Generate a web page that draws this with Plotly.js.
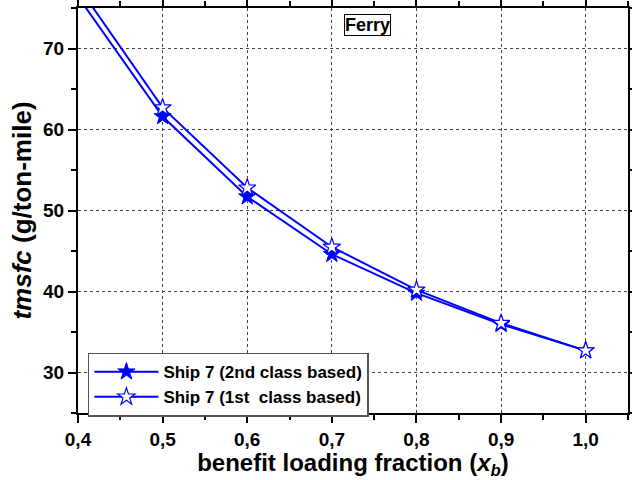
<!DOCTYPE html>
<html>
<head>
<meta charset="utf-8">
<script src="https://cdn.plot.ly/plotly-3.0.1.min.js"></script>
<style>html,body{margin:0;padding:0;background:#fff;}#chart{width:632px;height:480px;}</style>
</head>
<body>
<div id="chart"></div>
<script>
const xValues = [0.4, 0.5, 0.6, 0.7, 0.8, 0.9, 1.0];
const ship7SecondClass = [76.4, 61.6, 51.7, 44.6, 39.8, 35.95, 32.7];
const ship7FirstClass = [77.7, 62.7, 52.8, 45.5, 40.2, 36.1, 32.7];
const seriesNames = ["Ship 7 (2nd class based)", "Ship 7 (1st&nbsp; class based)"];
const xTickVals = [0.4, 0.5, 0.6, 0.7, 0.8, 0.9, 1.0];
const xTickLabels = ["0,4", "0,5", "0,6", "0,7", "0,8", "0,9", "1,0"];
const yTickVals = [30, 40, 50, 60, 70];
const yTickLabels = ["30", "40", "50", "60", "70"];

const font = "Liberation Sans";
const blue = "#0000ff";
const bold = s => "<b>" + s + "</b>";

const traces = [
  {
    x: xValues, y: ship7SecondClass, name: bold(seriesNames[0]),
    mode: "lines+markers", type: "scatter",
    line: {color: blue, width: 2},
    marker: {symbol: "star", size: 13, color: blue, line: {color: blue, width: 1}}
  },
  {
    x: xValues, y: ship7FirstClass, name: bold(seriesNames[1]),
    mode: "lines+markers", type: "scatter",
    line: {color: blue, width: 2},
    marker: {symbol: "star", size: 13, color: "#ffffff", line: {color: blue, width: 1.2}}
  }
];

const axisCommon = {
  showline: true, linecolor: "#000", linewidth: 2, mirror: "ticks",
  ticks: "outside", ticklen: 8, tickwidth: 2, tickcolor: "#000",
  showgrid: true, gridcolor: "#444", gridwidth: 1, griddash: "dot",
  zeroline: false,
  tickfont: {family: font, size: 19, color: "#000"}
};

const layout = {
  width: 632, height: 480,
  margin: {l: 78, r: 4, t: 8, b: 67},
  paper_bgcolor: "#fff", plot_bgcolor: "#fff",
  showlegend: true,
  xaxis: Object.assign({}, axisCommon, {
    range: [0.4, 1.05], tickvals: xTickVals, ticktext: xTickLabels.map(bold),
    minor: {dtick: 0.05, tick0: 0.4, ticklen: 5, tickwidth: 2, tickcolor: "#000", ticks: "outside", showgrid: false},
    title: {text: "<b>benefit loading fraction (<i>x</i><sub><i>b</i></sub>)</b>", font: {family: font, size: 24, color: "#000"}, standoff: 4}
  }),
  yaxis: Object.assign({}, axisCommon, {
    range: [25, 75], tickvals: yTickVals, ticktext: yTickLabels.map(bold),
    minor: {dtick: 5, tick0: 25, ticklen: 5, tickwidth: 2, tickcolor: "#000", ticks: "outside", showgrid: false},
    title: {text: "<b><i>tmsfc</i> (g/ton-mile)</b>", font: {family: font, size: 26, color: "#000"}, standoff: 4}
  }),
  legend: {
    x: 0.018, y: 0.149, xanchor: "left", yanchor: "top",
    bgcolor: "#fff", bordercolor: "#555", borderwidth: 1.5,
    font: {family: font, size: 17, color: "#000"},
    itemwidth: 64, tracegroupgap: 0
  },
  annotations: [{
    xref: "paper", yref: "paper", x: 0.527, y: 0.959, yanchor: "middle",
    text: "<b>Ferry</b>", showarrow: false,
    font: {family: font, size: 18, color: "#000"},
    bordercolor: "#000", borderwidth: 1, borderpad: 0, bgcolor: "#fff"
  }]
};

Plotly.newPlot("chart", traces, layout, {displayModeBar: false, staticPlot: true});
</script>
</body>
</html>
